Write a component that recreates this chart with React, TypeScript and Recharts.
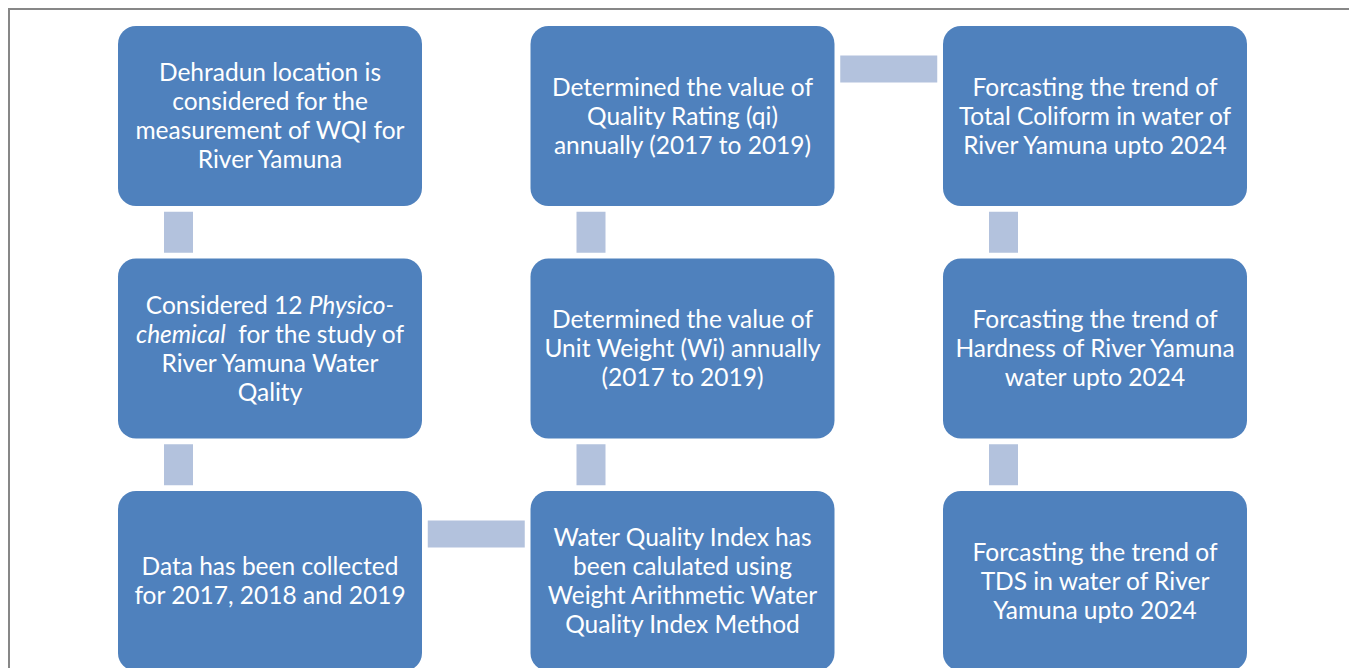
import { ScatterChart, Scatter, XAxis, YAxis } from "recharts";

// each box: lines of text, *word* = italic
const boxLabels: string[][] = [
  ["Dehradun location is", "considered for the", "measurement of WQI for", "River Yamuna"],
  ["Considered 12 *Physico-*", "*chemical*  for the study of", "River Yamuna Water", "Qality"],
  ["Data has been collected", "for 2017, 2018 and 2019"],
  ["Determined the value of", "Quality Rating (qi)", "annually (2017 to 2019)"],
  ["Determined the value of", "Unit Weight (Wi) annually", "(2017 to 2019)"],
  ["Water Quality Index has", "been calulated using", "Weight Arithmetic Water", "Quality Index Method"],
  ["Forcasting the trend of", "Total Coliform in water of", "River Yamuna upto 2024"],
  ["Forcasting the trend of", "Hardness of River Yamuna", "water upto 2024"],
  ["Forcasting the trend of", "TDS in water of River", "Yamuna upto 2024"],
];
const boxColumns = [0, 0, 0, 1, 1, 1, 2, 2, 2];
const boxRows = [0, 1, 2, 0, 1, 2, 0, 1, 2];
// flow order between boxes (index pairs)
const flowLinks: [number, number][] = [
  [0, 1], [1, 2], [2, 5], [5, 4], [4, 3], [3, 6], [6, 7], [7, 8],
];

const boxData = boxLabels.map((lines, i) => ({ x: boxColumns[i], y: boxRows[i], lines }));
const linkData = flowLinks.map(([a, b]) => ({
  x: (boxColumns[a] + boxColumns[b]) / 2,
  y: (boxRows[a] + boxRows[b]) / 2,
  vertical: boxColumns[a] === boxColumns[b],
}));

const BOX_W = 304;
const BOX_H = 180;
const LINE_H = 29;

function renderLine(line: string) {
  const parts = line.split("*");
  return parts.map((p, j) => (
    <tspan key={j} fontStyle={j % 2 === 1 ? "italic" : "normal"}>
      {p}
    </tspan>
  ));
}

function FlowBox(props: any) {
  const { cx, cy, payload } = props;
  const lines: string[] = payload.lines;
  const n = lines.length;
  return (
    <g>
      <rect x={cx - BOX_W / 2} y={cy - BOX_H / 2} width={BOX_W} height={BOX_H} rx={18} fill="#4F81BD" />
      {lines.map((line, i) => (
        <text
          key={i}
          x={cx}
          y={cy - 1.5 + (i - (n - 1) / 2) * LINE_H}
          textAnchor="middle"
          dominantBaseline="central"
          fill="#ffffff"
          fontFamily="Lato, 'Open Sans', sans-serif"
          fontSize={24.5}
          style={{ whiteSpace: "pre" }}
        >
          {renderLine(line)}
        </text>
      ))}
    </g>
  );
}

function Connector(props: any) {
  const { cx, cy, payload } = props;
  if (payload.vertical) {
    return <rect x={cx - 92 - 14} y={cy - 20.5} width={29} height={41} fill="#B3C2DD" />;
  }
  return <rect x={cx - 48.5} y={cy - 47 - 13.5} width={97} height={27} fill="#B3C2DD" />;
}

export default function App() {
  return (
    <div
      style={{
        width: 1348,
        height: 700,
        border: "2px solid #878787",
        boxSizing: "border-box",
        background: "#fff",
      }}
    >
      <style>{"body{overflow:hidden}"}</style>
      <ScatterChart width={1344} height={680} margin={{ top: 106, right: 259, bottom: 109, left: 260 }}>
        <XAxis type="number" dataKey="x" domain={[0, 2]} hide />
        <YAxis type="number" dataKey="y" domain={[0, 2]} reversed hide />
        <Scatter data={linkData} shape={<Connector />} isAnimationActive={false} />
        <Scatter data={boxData} shape={<FlowBox />} isAnimationActive={false} />
      </ScatterChart>
    </div>
  );
}
